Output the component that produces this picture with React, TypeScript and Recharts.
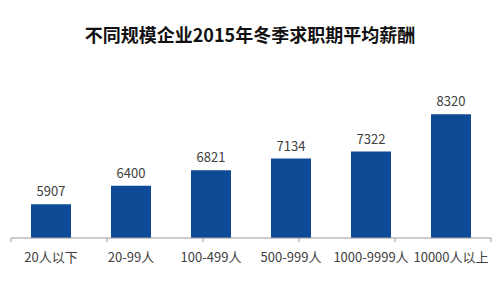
import { Bar, BarChart, LabelList, XAxis, YAxis } from 'recharts';

const categories = ['20人以下', '20-99人', '100-499人', '500-999人', '1000-9999人', '10000人以上'];
const salaries = [5907, 6400, 6821, 7134, 7322, 8320];
const edgeTicks = [0, 1, 2, 3, 4, 5, 6];

const FONT = '"Noto Sans CJK SC", "Noto Sans", sans-serif';
const BAR_COLOR = '#0f4a96';

export default function App() {
  const data = categories.map((name, i) => ({ name, value: salaries[i] }));

  return (
    <div style={{ position: 'absolute', left: 0, top: 0, width: 500, height: 293, background: '#fff', fontFamily: FONT }}>
      <div
        style={{
          position: 'absolute',
          top: 21,
          left: 0,
          width: 500,
          textAlign: 'center',
          fontSize: 18,
          fontWeight: 700,
          color: '#111',
          lineHeight: '26px',
        }}
      >
        不同规模企业2015年冬季求职期平均薪酬
      </div>
      <div style={{ position: 'absolute', top: 70, left: 0 }}>
        <BarChart width={500} height={223} data={data} margin={{ top: 19, right: 9, left: 11, bottom: 20 }}>
          <XAxis
            xAxisId={0}
            type="number"
            domain={[0, 6]}
            ticks={edgeTicks}
            tickFormatter={() => ''}
            axisLine={{ stroke: '#9a9a9a' }}
            tickLine={{ stroke: '#9a9a9a' }}
            tickSize={4}
            height={5}
            allowDataOverflow
          />
          <XAxis
            xAxisId={1}
            dataKey="name"
            axisLine={false}
            tickLine={false}
            interval={0}
            height={30}
            tickMargin={4}
            tick={{ fill: '#404040', fontSize: 13, fontFamily: FONT }}
          />
          <YAxis hide domain={[5000, 9000]} allowDataOverflow />
          <Bar xAxisId={1} dataKey="value" fill={BAR_COLOR} barSize={40} isAnimationActive={false}>
            <LabelList dataKey="value" position="top" offset={8} fill="#404040" fontSize={13} fontFamily={FONT} />
          </Bar>
        </BarChart>
      </div>
    </div>
  );
}
